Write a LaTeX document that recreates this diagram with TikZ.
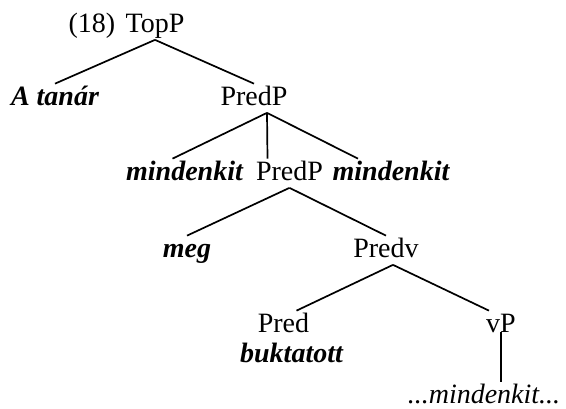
\documentclass[tikz,border=0pt]{standalone}
\usepackage{fontspec}
\setmainfont{Liberation Serif}
\usetikzlibrary{calc}

\begin{document}
\begin{tikzpicture}[
        x=1pt, y=-1pt, line width=1.7pt,
        every node/.style={font=\fontsize{28}{34}\selectfont, anchor=base,
            inner sep=1pt, text height=19.5pt, text depth=6pt},
        word/.style={font=\fontsize{28}{34}\selectfont\bfseries\itshape},
        trace/.style={font=\fontsize{28}{34}\selectfont\itshape},
    ]

    \useasboundingbox (0,0) rectangle (566,408);

    \node (num)    at (92,32)    {(18)};
    \node (topp)   at (155,32)   {TopP};
    \node[word] (tanar) at (55,105) {A tanár};
    \node (predp)  at (254,105)  {PredP};
    \node[word] (mleft)  at (184.5,180) {mindenkit};
    \node (predp2) at (289.5,180) {PredP};
    \node[word] (mright) at (391,180)   {mindenkit};
    \node[word] (meg)    at (187,257)   {meg};
    \node (predv)  at (386,257)  {Predv};
    \node (pred)   at (283.5,332) {Pred};
    \node[word] (bukt)   at (291.5,362) {buktatott};
    \node (vp)     at (501,332)  {vP};
    \node[trace] (mdots) at (484,403) {...mindenkit...};

    \foreach \from/\to in {topp/tanar, topp/predp, predp2/meg, predp2/predv}
        \draw (\from.south) -- (\to.north);

    \draw ($(predp.south) + (13,0)$) -- ($(mleft.north) + (-12,0)$);
    \draw ($(predp.south) + (13,0)$) -- ($(predp2.north) + (-22,0)$);
    \draw ($(predp.south) + (13,0)$) -- ($(mright.north) + (-33,0)$);

    \draw ($(predv.south) + (7,0)$) -- ($(pred.north) + (13,0)$);
    \draw ($(predv.south) + (7,0)$) -- ($(vp.north) + (-12,0)$);
    \draw (vp.base) -- (vp.base |- mdots.north);

\end{tikzpicture}
\end{document}
